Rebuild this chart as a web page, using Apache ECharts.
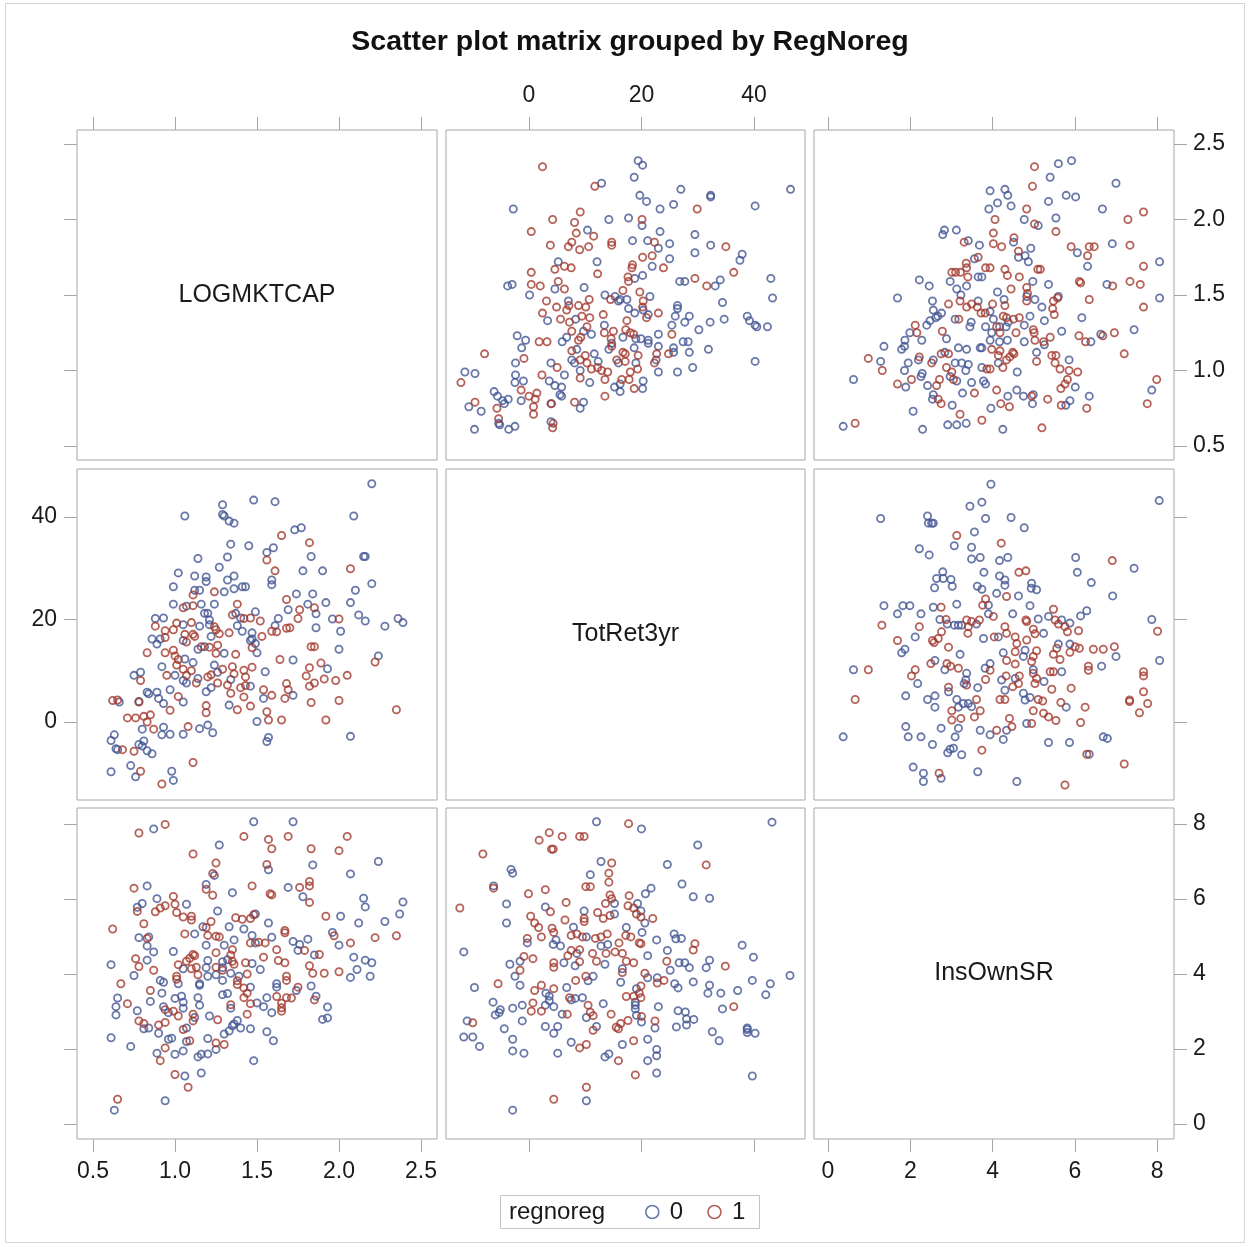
<!DOCTYPE html>
<html>
<head>
<meta charset="utf-8">
<script src="https://cdn.jsdelivr.net/npm/echarts@6/dist/echarts.min.js"></script>
<style>
html,body{margin:0;padding:0;background:#fff;}
#chart{width:1251px;height:1247px;}
</style>
</head>
<body>
<div id="chart"></div>
<script>
// ---------------- DATA ----------------
const variables = ['LOGMKTCAP', 'TotRet3yr', 'InsOwnSR'];
const groups = ['0', '1'];
const logTicks = [0.5, 1.0, 1.5, 2.0, 2.5];
const retTicks = [0, 20, 40];
const insTicks = [0, 2, 4, 6, 8];

// [TotRet3yr, LOGMKTCAP]
const totret_logmktcap_0 = [
[12.9,2.24],[-2.8,2.07],[14.2,2.00],[10.4,1.93],[5.2,1.72],[12.1,1.72],[-3.8,1.56],[-3.0,1.57],[0.1,1.50],[4.6,1.54],[9.8,1.55],[13.5,1.50],[15.9,1.46],[15.3,1.49],[7.0,1.46],[3.3,1.33],[8.3,1.34],[13.4,1.30],[9.7,1.26],[11.1,1.24],[-2.1,1.23],[-0.6,1.20],[5.9,1.19],[6.7,1.22],[-1.3,1.15],[8.5,1.14],[11.6,1.11],[14.2,1.14],[14.7,1.18],[-2.4,1.05],[3.9,1.05],[7.6,1.07],[8.1,1.05],[9.1,1.00],[12.3,1.06],[15.9,1.05],[-11.4,0.99],[-9.6,0.98],[-2.4,0.97],[-1.0,0.93],[-2.5,0.92],[3.6,0.93],[6.3,0.97],[4.6,0.90],[5.8,0.89],[10.8,0.92],[15.2,0.89],[-6.2,0.86],[-5.6,0.83],[-1.4,0.80],[-3.7,0.81],[-4.4,0.78],[-4.7,0.80],[5.5,0.84],[5.8,0.83],[4.0,0.78],[9.7,0.79],[9.1,0.75],[-10.7,0.76],[-8.5,0.73],[-5.4,0.65],[-5.2,0.64],[-2.5,0.63],[-3.6,0.61],[-9.7,0.61],[3.9,0.66],
[19.4,2.39],[20.2,2.36],[18.7,2.28],[19.7,2.16],[20.9,2.12],[23.3,2.07],[25.7,2.10],[27.0,2.20],[32.3,2.16],[32.3,2.15],[40.2,2.09],[46.5,2.20],[17.7,2.01],[20.1,1.96],[23.3,1.92],[29.5,1.90],[18.4,1.86],[21.1,1.86],[25.0,1.84],[23.0,1.81],[32.3,1.83],[29.5,1.78],[37.9,1.77],[37.5,1.73],[25.0,1.74],[21.9,1.69],[18.8,1.61],[20.2,1.63],[26.8,1.59],[27.7,1.59],[33.1,1.56],[34.0,1.60],[43.0,1.61],[16.2,1.47],[17.4,1.47],[21.5,1.49],[43.3,1.48],[17.7,1.41],[18.8,1.38],[20.3,1.40],[21.2,1.37],[26.4,1.43],[26.4,1.41],[26.0,1.36],[28.5,1.36],[27.7,1.32],[34.4,1.45],[32.2,1.32],[34.7,1.34],[38.8,1.36],[39.2,1.33],[40.2,1.30],[40.5,1.29],[42.4,1.29],[16.7,1.22],[19.0,1.21],[19.9,1.21],[21.2,1.20],[23.0,1.24],[25.4,1.30],[30.2,1.27],[21.2,1.18],[27.4,1.19],[28.3,1.19],[18.7,1.15],[23.0,1.16],[25.7,1.15],[25.7,1.12],[28.5,1.12],[31.9,1.14],[40.2,1.06],[19.0,1.05],[22.6,1.07],[23.0,0.99],[26.4,0.99],[29.1,1.02],[16.2,0.91],[20.3,0.93],[20.2,0.88],[16.2,0.86]
];
const totret_logmktcap_1 = [
[2.4,2.35],[11.7,2.22],[9.1,2.05],[4.2,2.00],[0.4,1.92],[8.1,1.98],[8.4,1.91],[11.5,1.89],[3.8,1.83],[7.0,1.82],[7.6,1.85],[9.0,1.80],[10.6,1.82],[14.7,1.85],[14.7,1.83],[4.6,1.67],[6.3,1.69],[7.5,1.68],[12.2,1.64],[0.4,1.65],[0.4,1.57],[2.0,1.56],[5.2,1.59],[6.3,1.54],[14.5,1.47],[3.1,1.46],[4.9,1.42],[7.1,1.43],[8.8,1.43],[10.7,1.47],[10.1,1.42],[6.7,1.40],[2.4,1.38],[5.6,1.34],[7.2,1.32],[9.4,1.36],[10.8,1.35],[13.2,1.37],[7.6,1.26],[10.3,1.29],[13.4,1.25],[15.0,1.26],[14.6,1.21],[1.8,1.19],[3.2,1.19],[8.8,1.20],[9.2,1.22],[-0.9,1.08],[7.6,1.13],[10.0,1.10],[14.7,1.16],[5.0,1.02],[9.1,1.07],[10.3,1.05],[11.1,1.01],[12.2,1.02],[12.9,1.00],[14.0,0.99],[15.6,1.07],[-7.9,1.11],[-12.1,0.92],[2.3,0.97],[9.1,0.95],[13.5,0.94],[-1.4,0.87],[1.4,0.85],[0.0,0.83],[1.1,0.81],[3.9,0.78],[8.1,0.79],[13.5,0.83],[-9.6,0.79],[-5.7,0.75],[0.8,0.76],[0.8,0.71],[-5.4,0.68],[4.3,0.65],[4.2,0.62],
[29.9,2.07],[20.1,2.00],[22.3,1.85],[35.0,1.82],[20.2,1.75],[21.9,1.76],[18.4,1.70],[18.3,1.68],[23.9,1.68],[36.4,1.65],[17.6,1.62],[17.7,1.59],[29.5,1.61],[31.6,1.56],[16.7,1.53],[19.7,1.52],[20.3,1.46],[20.2,1.42],[20.9,1.35],[23.0,1.38],[17.4,1.33],[17.2,1.27],[18.0,1.25],[18.6,1.24],[25.4,1.24],[16.7,1.12],[17.1,1.11],[17.1,1.06],[19.4,1.10],[22.7,1.11],[24.8,1.11],[22.3,1.05],[18.0,0.99],[19.3,1.01],[16.5,0.94],[17.8,0.94],[18.7,0.88]
];

// [InsOwnSR, LOGMKTCAP]
const insown_logmktcap_0 = [
[3.91,2.07],[2.83,1.93],[2.79,1.90],[3.12,1.93],[3.41,1.86],[3.68,1.83],[3.56,1.74],[3.65,1.62],[3.74,1.62],[2.22,1.60],[2.46,1.56],[2.97,1.59],[3.37,1.56],[3.13,1.54],[3.23,1.50],[1.69,1.48],[2.54,1.46],[3.65,1.46],[2.56,1.40],[2.76,1.38],[2.67,1.36],[2.48,1.33],[2.40,1.30],[2.62,1.35],[3.09,1.34],[3.48,1.32],[3.45,1.29],[3.83,1.29],[1.99,1.25],[1.87,1.20],[2.28,1.20],[2.88,1.21],[1.36,1.16],[1.79,1.14],[1.86,1.16],[3.17,1.15],[3.37,1.14],[3.70,1.15],[3.74,1.15],[1.28,1.06],[2.20,1.07],[2.56,1.07],[2.84,1.12],[1.86,1.00],[1.95,1.05],[2.29,0.98],[2.26,0.96],[3.09,1.05],[3.25,1.05],[3.41,1.04],[3.35,1.00],[2.97,0.96],[3.74,1.02],[0.62,0.94],[1.89,0.89],[2.42,0.90],[3.13,0.93],[3.49,0.92],[3.78,0.93],[3.83,0.91],[2.56,0.84],[2.54,0.81],[3.02,0.77],[3.27,0.85],[2.07,0.73],[0.37,0.63],[2.30,0.61],[2.91,0.64],[3.13,0.64],[3.36,0.65],
[5.60,2.37],[5.92,2.39],[5.40,2.28],[7.00,2.24],[3.94,2.19],[4.30,2.20],[4.37,2.16],[4.12,2.11],[4.45,2.09],[5.36,2.12],[5.79,2.16],[6.02,2.15],[6.67,2.07],[4.77,2.00],[5.11,1.96],[5.54,2.01],[4.51,1.85],[4.93,1.81],[4.63,1.75],[4.79,1.76],[4.87,1.72],[6.06,1.78],[6.31,1.69],[6.91,1.84],[8.06,1.72],[4.98,1.59],[5.36,1.57],[6.78,1.57],[4.12,1.52],[4.28,1.47],[4.83,1.49],[5.03,1.47],[5.60,1.49],[5.20,1.42],[6.17,1.35],[8.06,1.48],[3.94,1.39],[4.38,1.32],[4.02,1.34],[4.91,1.36],[5.26,1.33],[4.17,1.29],[4.33,1.29],[3.98,1.25],[4.77,1.30],[5.68,1.26],[6.39,1.19],[6.63,1.24],[7.44,1.27],[3.94,1.20],[4.17,1.19],[4.36,1.20],[4.77,1.19],[5.26,1.17],[5.07,1.12],[4.14,1.05],[5.86,1.07],[4.60,0.99],[6.01,0.89],[7.87,0.87],[4.59,0.87],[4.37,0.83],[4.75,0.83],[4.99,0.84],[4.97,0.78],[5.78,0.77],[5.88,0.80],[6.35,0.83],[3.96,0.75],[4.25,0.61]
];
const insown_logmktcap_1 = [
[3.31,1.85],[3.65,1.75],[3.83,1.68],[3.36,1.71],[3.37,1.68],[3.01,1.65],[3.10,1.65],[3.22,1.65],[3.40,1.62],[2.93,1.44],[3.21,1.46],[3.49,1.44],[3.63,1.42],[3.72,1.38],[3.82,1.38],[3.37,1.42],[3.18,1.34],[2.12,1.30],[2.16,1.25],[2.78,1.26],[0.98,1.08],[1.32,1.00],[2.22,1.09],[2.52,1.05],[2.75,1.11],[2.93,1.11],[2.88,1.02],[3.01,0.99],[3.05,0.94],[3.86,1.01],[1.69,0.91],[2.03,0.94],[2.64,0.90],[2.71,0.94],[2.68,0.81],[2.75,0.78],[3.56,0.85],[3.21,0.71],[3.74,0.67],[0.66,0.65],
[5.02,2.35],[4.97,2.22],[4.83,2.07],[7.67,2.05],[7.29,2.00],[4.06,2.00],[5.02,1.97],[5.54,1.92],[4.02,1.91],[4.02,1.84],[4.22,1.82],[4.52,1.88],[4.63,1.79],[5.91,1.82],[6.35,1.82],[6.47,1.82],[6.31,1.76],[7.34,1.83],[7.67,1.69],[3.94,1.68],[4.30,1.67],[4.36,1.63],[4.65,1.62],[5.10,1.67],[5.16,1.67],[6.11,1.59],[6.14,1.58],[6.92,1.56],[7.34,1.59],[7.59,1.57],[4.45,1.54],[4.83,1.55],[4.85,1.51],[4.83,1.46],[4.30,1.43],[4.00,1.44],[5.48,1.46],[5.58,1.48],[6.35,1.47],[5.46,1.41],[5.50,1.37],[7.67,1.42],[4.26,1.36],[4.34,1.35],[4.51,1.34],[4.65,1.35],[4.10,1.29],[4.18,1.25],[4.57,1.25],[4.99,1.27],[5.01,1.25],[5.40,1.22],[6.10,1.23],[6.26,1.19],[6.68,1.23],[6.96,1.25],[5.03,1.20],[5.24,1.19],[3.98,1.14],[4.18,1.13],[4.14,1.10],[4.49,1.12],[4.52,1.11],[4.42,1.09],[4.34,1.07],[4.25,1.02],[3.94,1.01],[5.07,1.06],[5.44,1.10],[5.54,1.10],[5.52,1.05],[7.20,1.11],[5.64,1.01],[5.86,1.00],[6.07,0.99],[5.82,0.94],[5.76,0.91],[5.66,0.88],[7.99,0.94],[4.10,0.87],[4.20,0.78],[4.41,0.76],[4.95,0.83],[5.34,0.81],[5.67,0.77],[6.29,0.75],[7.76,0.78],[5.20,0.62]
];

// [InsOwnSR, TotRet3yr]
const insown_totret_0 = [
[3.45,42.1],[3.74,42.9],[3.83,39.7],[1.28,39.7],[2.42,40.2],[2.44,38.8],[2.52,38.8],[2.56,38.8],[3.56,37.1],[3.07,34.4],[3.49,34.1],[2.22,33.8],[2.46,32.6],[3.49,31.8],[3.70,32.1],[2.79,29.3],[2.64,28.0],[2.80,28.0],[2.99,27.8],[2.59,26.2],[3.02,26.5],[3.63,26.5],[3.74,25.9],[3.79,29.2],[3.90,22.8],[1.36,22.7],[1.82,22.7],[1.99,22.7],[1.69,21.1],[2.26,21.1],[2.56,22.4],[3.13,23.0],[2.72,20.0],[2.90,19.1],[3.07,18.9],[3.17,18.9],[3.25,18.9],[3.61,19.1],[3.90,21.1],[2.12,16.6],[3.78,16.3],[1.87,14.2],[1.79,13.5],[3.21,13.2],[2.60,12.0],[0.62,10.2],[2.18,7.5],[2.84,10.2],[3.37,9.5],[3.35,8.2],[3.31,7.5],[3.64,6.7],[3.82,10.5],[1.89,5.1],[2.42,4.4],[2.60,5.1],[2.60,2.9],[2.93,5.9],[3.13,4.4],[3.29,3.6],[3.41,3.6],[3.17,2.9],[3.49,3.0],[0.37,-2.9],[1.89,-0.9],[1.95,-2.9],[2.26,-2.9],[2.54,-4.4],[2.75,-1.2],[3.17,-1.2],[3.09,-2.9],[3.70,-1.6],[2.97,-5.3],[3.05,-5.1],[3.25,-6.4],[2.91,-6.0],[2.07,-8.8],[2.32,-10.0],[2.32,-11.6],[2.75,-11.0],[3.64,-9.7],
[3.96,46.4],[8.05,43.2],[4.45,39.9],[4.77,37.9],[4.17,31.5],[4.37,32.1],[6.02,32.1],[7.44,30.0],[6.06,29.2],[6.40,27.2],[4.17,28.5],[4.30,27.7],[4.30,26.7],[4.95,27.1],[5.07,25.8],[4.94,26.1],[4.10,25.1],[4.63,24.6],[6.92,24.6],[4.91,22.7],[4.49,21.1],[5.11,20.1],[5.36,20.6],[5.68,19.9],[5.88,19.3],[6.14,20.7],[6.29,21.7],[7.87,20.0],[4.14,16.6],[5.24,17.3],[4.26,13.5],[4.79,14.0],[4.75,12.8],[5.60,15.2],[5.88,15.2],[7.00,12.8],[6.65,10.9],[8.06,12.0],[3.94,11.4],[4.22,8.2],[4.55,8.5],[4.30,6.2],[4.99,10.2],[5.68,9.8],[5.25,7.9],[4.75,5.6],[4.79,4.3],[4.91,4.8],[5.79,2.9],[3.94,-2.5],[4.26,-3.4],[4.34,-1.6],[4.83,-0.3],[5.36,-4.0],[5.87,-4.0],[6.69,-2.9],[6.79,-3.2],[6.35,-6.3],[4.59,-11.6]
];
const insown_totret_1 = [
[3.13,36.4],[3.83,24.0],[3.76,22.8],[2.75,22.4],[1.31,18.9],[2.22,18.6],[2.87,20.0],[3.37,19.9],[3.41,18.6],[3.49,19.6],[3.68,19.9],[2.76,17.6],[2.68,16.3],[1.69,15.9],[2.58,15.5],[2.54,15.9],[2.93,14.6],[3.40,17.3],[0.98,10.2],[2.12,10.2],[2.03,9.0],[2.50,11.4],[2.89,11.4],[2.98,10.9],[3.17,10.5],[3.37,7.2],[3.83,8.3],[0.66,4.4],[2.93,6.8],[3.61,4.4],[3.01,2.2],[3.70,2.2],[3.56,1.0],[3.01,0.4],[3.23,0.7],[3.74,-5.5],[2.70,-10.0],
[4.21,34.9],[6.91,31.5],[4.64,29.2],[4.81,29.5],[4.34,24.5],[4.02,20.6],[4.81,19.9],[4.83,19.6],[5.48,22.0],[5.52,19.9],[5.60,19.1],[5.76,18.6],[6.09,17.8],[5.82,17.6],[8.01,17.7],[4.30,18.6],[4.34,17.3],[4.04,16.6],[4.55,16.6],[4.99,18.1],[5.03,17.2],[4.83,16.0],[4.59,15.3],[4.55,13.7],[5.07,13.9],[4.99,12.8],[4.34,12.0],[4.55,11.3],[4.95,11.8],[5.56,14.4],[6.01,14.7],[6.11,14.4],[6.45,14.2],[6.69,14.2],[6.96,14.7],[5.48,13.2],[5.64,12.2],[5.88,13.6],[6.33,10.9],[6.33,10.1],[3.94,10.1],[4.33,9.0],[4.65,9.0],[4.63,7.5],[4.49,6.9],[4.99,9.5],[5.07,8.5],[5.03,7.5],[5.40,9.8],[5.48,9.8],[5.44,6.4],[5.91,6.6],[7.67,9.8],[7.67,9.0],[7.67,5.9],[7.33,4.3],[7.33,4.0],[7.77,3.6],[7.57,1.8],[4.18,4.4],[4.30,4.4],[5.11,4.4],[5.22,4.1],[5.66,3.8],[6.25,2.9],[4.99,2.2],[5.24,1.7],[5.36,1.0],[5.54,0.3],[6.14,-0.1],[4.41,0.7],[4.47,-0.9],[4.10,-1.6],[4.95,-0.3],[6.29,-6.3],[7.20,-8.2],[5.76,-12.3]
];

// ---------------- LAYOUT / STYLE ----------------
const FONT = '"Liberation Sans", Arial, Helvetica, sans-serif';
const BLUE = '#445694', RED = '#A23A2E';
const FRAME = '#a6a6a6', TEXT = '#1a1a1a';
const colLeft = [77, 446, 814], colWidth = [360, 359, 360];
const rowTop = [130, 469, 808], rowHeight = [330, 331, 331];
// axis scale per variable: as x-axis (column) and as y-axis (row)
const scaleX = [{min:0.4024, max:2.5976}, {min:-14.76, max:49.07}, {min:-0.34, max:8.41}];
const scaleY = [{min:0.407, max:2.593}, {min:-15.22, max:49.37}, {min:-0.40, max:8.427}];
const ticksOf = [logTicks, retTicks, insTicks];
const fmtOf = [v => Number(v).toFixed(1), v => String(Math.round(v)), v => String(Math.round(v))];

const grids = [], xAxes = [], yAxes = [], series = [], graphics = [];

function axisDef(kind, pos, vi, gi, showTicks, showLabels, margin) {
  const sc = kind === 'x' ? scaleX[vi] : scaleY[vi];
  return {
    type: 'value', gridIndex: gi, position: pos,
    min: sc.min, max: sc.max,
    show: showTicks,
    axisLine: {show: false, onZero: false},
    splitLine: {show: false},
    axisTick: {show: showTicks, inside: false, length: 13, customValues: ticksOf[vi],
               lineStyle: {color: FRAME, width: 1}},
    axisLabel: {show: showLabels, customValues: ticksOf[vi], formatter: fmtOf[vi],
                margin: margin, fontSize: 23, fontFamily: FONT, color: TEXT},
    silent: true
  };
}

for (let r = 0; r < 3; r++) {
  for (let c = 0; c < 3; c++) {
    const gi = r * 3 + c;
    grids.push({left: colLeft[c], top: rowTop[r], width: colWidth[c], height: rowHeight[r],
                show: true, borderColor: FRAME, borderWidth: 1, backgroundColor: '#fff'});
    xAxes.push(axisDef('x', 'bottom', c, gi, r === 2, r === 2 && c !== 1, 21));
    xAxes.push(axisDef('x', 'top', c, gi, r === 0, r === 0 && c === 1, 23));
    yAxes.push(axisDef('y', 'left', r, gi, c === 0, c === 0 && r === 1, 20));
    yAxes.push(axisDef('y', 'right', r, gi, c === 2, c === 2 && r !== 1, 19));
    if (r === c) {
      graphics.push({type: 'text', x: colLeft[c] + colWidth[c] / 2, y: rowTop[r] + rowHeight[r] / 2,
        style: {text: variables[r], font: '25px ' + FONT, fill: TEXT, align: 'center', verticalAlign: 'middle'}});
    }
  }
}

// panel data: lower triangle uses swapped pairs of the upper triangle
const pairSets = [
  {r: 0, c: 1, g0: totret_logmktcap_0, g1: totret_logmktcap_1, swap: false},
  {r: 0, c: 2, g0: insown_logmktcap_0, g1: insown_logmktcap_1, swap: false},
  {r: 1, c: 2, g0: insown_totret_0, g1: insown_totret_1, swap: false},
  {r: 1, c: 0, g0: totret_logmktcap_0, g1: totret_logmktcap_1, swap: true},
  {r: 2, c: 0, g0: insown_logmktcap_0, g1: insown_logmktcap_1, swap: true},
  {r: 2, c: 1, g0: insown_totret_0, g1: insown_totret_1, swap: true}
];

function mkSeries(data, swap, gi, grp) {
  return {
    type: 'scatter', name: grp,
    xAxisIndex: 2 * gi, yAxisIndex: 2 * gi,
    data: swap ? data.map(d => [d[1], d[0]]) : data.slice(),
    symbol: 'circle', symbolSize: 7.2,
    itemStyle: {color: 'rgba(0,0,0,0)', borderColor: grp === '0' ? BLUE : RED, borderWidth: 1.8},
    emphasis: {disabled: true},
    silent: true
  };
}
pairSets.forEach(p => {
  const gi = p.r * 3 + p.c;
  series.push(mkSeries(p.g0, p.swap, gi, groups[0]));
  series.push(mkSeries(p.g1, p.swap, gi, groups[1]));
});

graphics.push({type: 'rect', shape: {x: 5.5, y: 3.5, width: 1239, height: 1239},
  style: {fill: 'none', stroke: '#d4d4d4', lineWidth: 1}, z: -1});
graphics.push({type: 'text', x: 630, y: 42,
  style: {text: 'Scatter plot matrix grouped by RegNoreg', font: 'bold 28.5px ' + FONT, fill: '#111',
          align: 'center', verticalAlign: 'middle'}});
graphics.push({type: 'rect', shape: {x: 500.5, y: 1195.5, width: 259, height: 33},
  style: {fill: 'none', stroke: '#c4c4c4', lineWidth: 1}});
graphics.push({type: 'text', x: 509, y: 1212,
  style: {text: 'regnoreg', font: '24px ' + FONT, fill: TEXT, align: 'left', verticalAlign: 'middle'}});

const option = {
  animation: false,
  backgroundColor: '#fff',
  grid: grids,
  xAxis: xAxes,
  yAxis: yAxes,
  series: series,
  legend: {
    left: 645, top: 1200, orient: 'horizontal',
    itemWidth: 13, itemHeight: 13, itemGap: 24, padding: 0,
    selectedMode: false,
    textStyle: {fontSize: 24, fontFamily: FONT, color: TEXT, padding: [0, 0, 0, 6]},
    data: [
      {name: '0', icon: 'circle', itemStyle: {color: 'rgba(0,0,0,0)', borderColor: BLUE, borderWidth: 1.6}},
      {name: '1', icon: 'circle', itemStyle: {color: 'rgba(0,0,0,0)', borderColor: RED, borderWidth: 1.6}}
    ]
  },
  graphic: graphics
};

const chart = echarts.init(document.getElementById('chart'), null, {renderer: 'canvas'});
chart.setOption(option);
</script>
</body>
</html>
